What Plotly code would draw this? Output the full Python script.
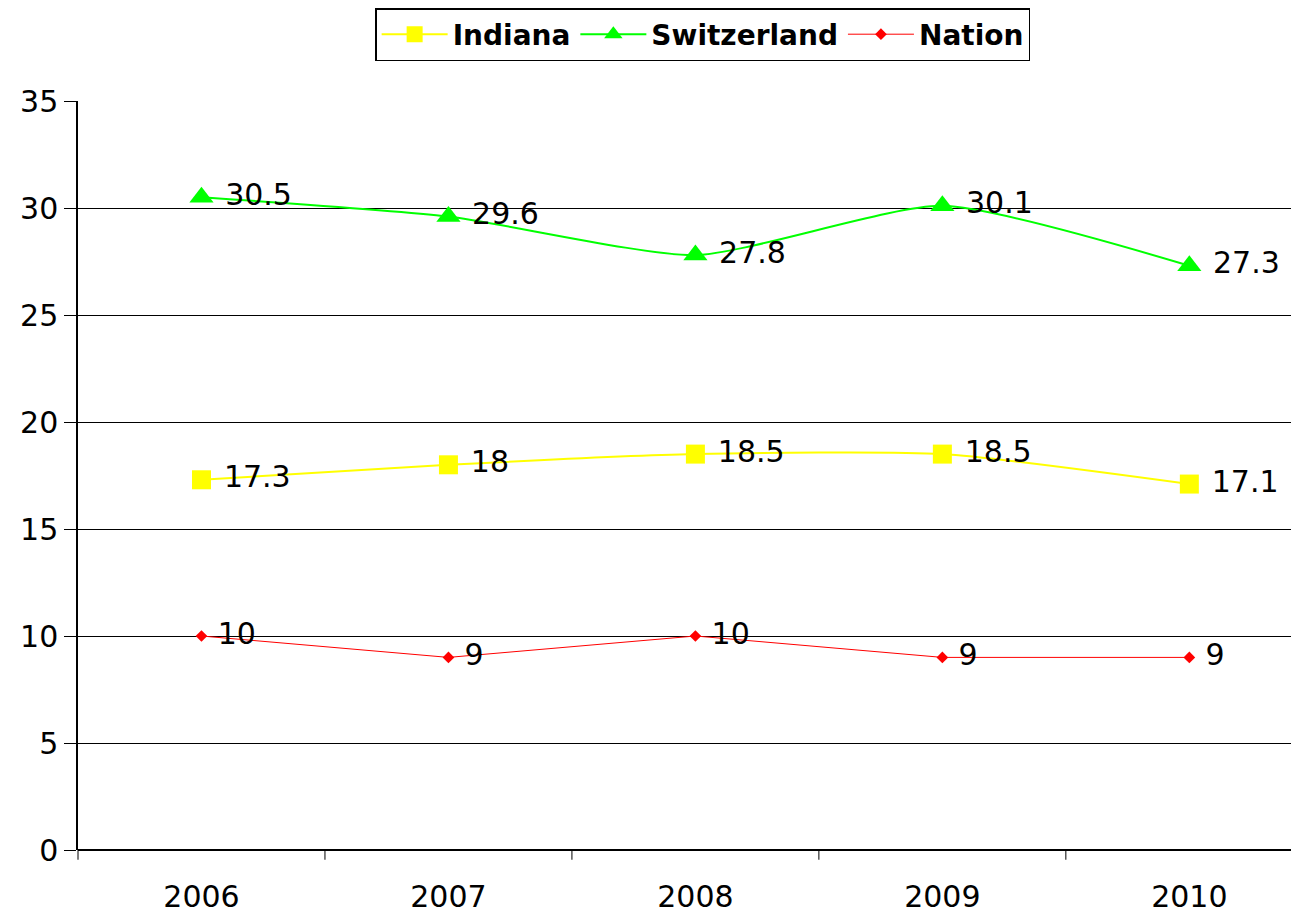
import plotly.graph_objects as go

years = ["2006", "2007", "2008", "2009", "2010"]
indiana = [17.3, 18, 18.5, 18.5, 17.1]
switzerland = [30.5, 29.6, 27.8, 30.1, 27.3]
nation = [10, 9, 10, 9, 9]

font_family = "DejaVu Sans"
label_font = dict(family=font_family, size=30, color="black")

fig = go.Figure()

fig.add_trace(go.Scatter(
    x=years, y=indiana, name="Indiana",
    mode="lines+markers+text", line=dict(color="#ffff00", width=2, shape="spline", smoothing=0.6),
    marker=dict(symbol="square", size=19, color="#ffff00"),
    text=[" " + str(v) for v in indiana], textposition="middle right", textfont=label_font,
))
fig.add_trace(go.Scatter(
    x=years, y=switzerland, name="Switzerland",
    mode="lines+markers+text", line=dict(color="#00ff00", width=2, shape="spline", smoothing=0.6),
    marker=dict(symbol="triangle-up", size=21, color="#00ff00"),
    text=[" " + str(v) for v in switzerland], textposition="middle right", textfont=label_font,
))
fig.add_trace(go.Scatter(
    x=years, y=nation, name="Nation",
    mode="lines+markers+text", line=dict(color="#ff0000", width=1),
    marker=dict(symbol="diamond", size=9, color="#ff0000"),
    text=[" " + str(v) for v in nation], textposition="middle right", textfont=label_font,
))

# page has an 8px body margin, so the figure is a bit smaller than the window
fig.update_layout(
    width=1291, height=908,
    margin=dict(l=70, r=1, t=93, b=66, autoexpand=False),
    paper_bgcolor="white", plot_bgcolor="white",
    font=dict(family=font_family, color="black"),
    showlegend=True,
    legend=dict(
        orientation="h", x=0.512, xanchor="center", y=1.0, yanchor="top",
        yref="container",
        bordercolor="black", borderwidth=1.5, bgcolor="white",
        font=dict(family=font_family, size=28, color="black", weight="bold"),
        itemwidth=66, tracegroupgap=0,
    ),
)

fig.update_xaxes(
    type="category", range=[-0.5, 4.44], automargin=False,
    showline=False, showgrid=False, zeroline=False,
    tickfont=dict(family=font_family, size=30, color="black"),
    ticks="", ticklabelstandoff=26,
)
fig.update_yaxes(
    range=[0, 35], dtick=5, automargin=False,
    showline=True, linecolor="black", linewidth=1.5,
    showgrid=True, gridcolor="black", gridwidth=1,
    zeroline=True, zerolinecolor="black", zerolinewidth=1.5,
    ticks="outside", ticklen=12, tickcolor="black",
    tickfont=dict(family=font_family, size=30, color="black"),
)

# category boundary tick marks along the bottom
for b in [0.5, 1.5, 2.5, 3.5]:
    fig.add_shape(type="line", xref="x", yref="paper", x0=b, x1=b, y0=0, y1=-0.013,
                  line=dict(color="black", width=1))
fig.add_shape(type="line", xref="paper", yref="paper", x0=0, x1=0, y0=0, y1=-0.013,
              line=dict(color="black", width=1))

fig.write_html("out.html")
